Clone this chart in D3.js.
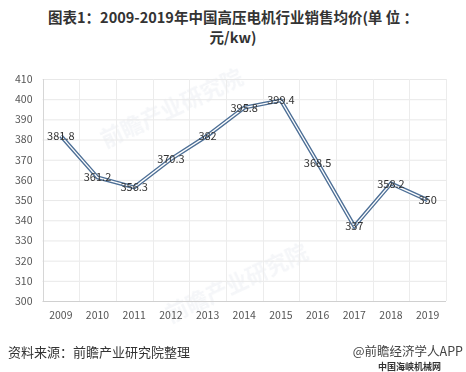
<!DOCTYPE html>
<html><head><meta charset="utf-8">
<script src="https://cdn.jsdelivr.net/npm/d3@7"></script>
<style>body{margin:0;background:#fff}svg{display:block}</style>
</head><body>
<script>
const years = ["2009","2010","2011","2012","2013","2014","2015","2016","2017","2018","2019"];
const prices = [381.8,361.2,356.3,370.3,382,395.8,399.4,368.5,337,358.2,350];
const labels = ["381.8","361.2","356.3","370.3","382","395.8","399.4","368.5","337","358.2","350"];
const yTicks = [300,310,320,330,340,350,360,370,380,390,400,410];

const W=466,H=372;
const svg=d3.select("body").append("svg").attr("width",W).attr("height",H);
const font="'Microsoft YaHei','Noto Sans CJK SC',sans-serif";
const pL=42.5,pR=446,pT=79,pB=301;
const x=d3.scaleBand().domain(years).range([pL,pR]);
const y=d3.scaleLinear().domain([300,410]).range([pB,pT]);

// title
svg.append("text").attr("x",W/2).attr("y",23).attr("text-anchor","middle")
 .attr("font-family",font).attr("font-weight","bold").attr("font-size",14.5).attr("fill","#333")
 .text("图表1：2009-2019年中国高压电机行业销售均价(单 位 ：");
svg.append("text").attr("x",W/2).attr("y",43).attr("text-anchor","middle")
 .attr("font-family",font).attr("font-weight","bold").attr("font-size",14.5).attr("fill","#333")
 .text("元/kw)");

// watermark
const wm=svg.append("g").attr("opacity",0.05).attr("font-family",font).attr("font-weight","bold").attr("fill","#2a4a7a");
[[175,115],[240,290]].forEach(([cx,cy])=>{
  wm.append("text").attr("transform",`translate(${cx},${cy}) rotate(-25)`).attr("font-size",22).attr("text-anchor","middle").text("前瞻产业研究院");
});

// grid
const g=svg.append("g");
g.selectAll(".hg").data(yTicks).join("line").attr("x1",pL).attr("x2",pR)
 .attr("y1",d=>y(d)+0.5).attr("y2",d=>y(d)+0.5).attr("stroke",d=>d===300?"#d0d0d0":"#e8e8e8");
const vb=years.map(d=>x(d)).concat([pR]);
g.selectAll(".vg").data(vb).join("line").attr("x1",d=>Math.round(d)+0.5).attr("x2",d=>Math.round(d)+0.5)
 .attr("y1",pT).attr("y2",pB).attr("stroke",(d,i)=>i===0?"#d6d6d6":"#ececec");

// axes
const yAxis=d3.axisLeft(y).tickValues(yTicks).tickSize(0).tickPadding(10);
svg.append("g").attr("transform",`translate(${pL},0)`).call(yAxis)
 .call(s=>s.select(".domain").remove())
 .selectAll("text").attr("font-family",font).attr("font-size",10.5).attr("fill","#555");
const xAxis=d3.axisBottom(x).tickSize(0).tickPadding(11);
svg.append("g").attr("transform",`translate(0,${pB})`).call(xAxis)
 .call(s=>s.select(".domain").remove())
 .selectAll("text").attr("font-family",font).attr("font-size",10.5).attr("fill","#555");

// line
const line=d3.line().x((d,i)=>x(years[i])+x.bandwidth()/2).y(d=>y(d));
svg.append("path").datum(prices).attr("d",line).attr("fill","none").attr("stroke","#4d6f96").attr("stroke-width",4).attr("stroke-linejoin","miter");
svg.append("path").datum(prices).attr("d",line).attr("fill","none").attr("stroke","#ffffff").attr("stroke-width",1.3).attr("stroke-linejoin","miter");

// labels
svg.selectAll(".lbl").data(prices).join("text")
 .attr("x",(d,i)=>x(years[i])+x.bandwidth()/2).attr("y",d=>y(d)+4)
 .attr("text-anchor","middle").attr("font-family",font).attr("font-size",11).attr("fill","#333")
 .text((d,i)=>labels[i]);

// footer
svg.append("text").attr("x",8).attr("y",357).attr("font-family",font).attr("font-size",13).attr("fill","#333").text("资料来源：前瞻产业研究院整理");
svg.append("text").attr("x",463).attr("y",356).attr("text-anchor","end").attr("font-family",font).attr("font-size",12.5).attr("fill","#444").text("@前瞻经济学人APP");
svg.append("text").attr("x",441).attr("y",370).attr("text-anchor","end").attr("font-family",font).attr("font-size",9).attr("font-weight","bold").attr("fill","#333").text("中国海峡机械网");
</script>
</body></html>
